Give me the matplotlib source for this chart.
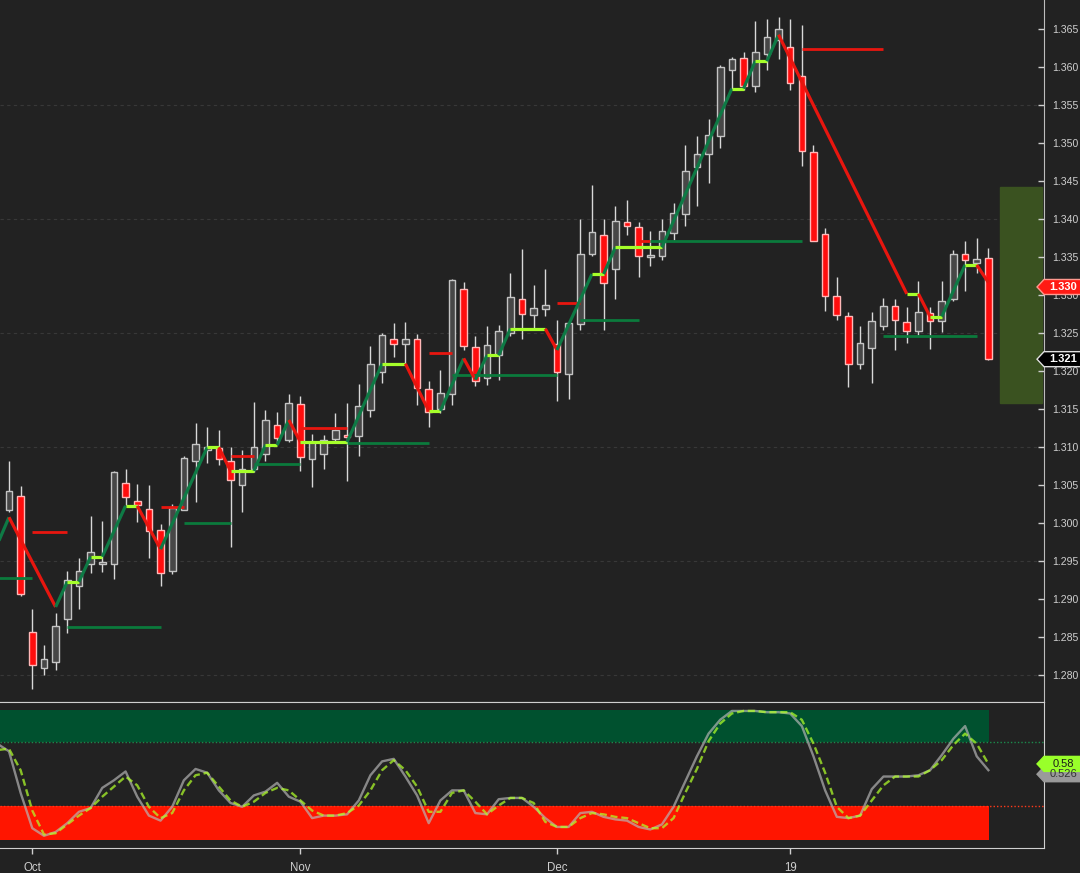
import numpy as np
import matplotlib
matplotlib.use("Agg")
import matplotlib.pyplot as plt
from matplotlib.patches import Polygon, Rectangle

plt.rcParams['font.family'] = ['Liberation Sans', 'DejaVu Sans']

# daily candles (bar 0 = Sep 27, bar 2 = Oct 1 ... bar 84 = last)
opens = [1.3018, 1.3036, 1.2857, 1.2810, 1.2818, 1.2874, 1.2917, 1.2946, 1.2947, 1.2946,
         1.3053, 1.3030, 1.3019, 1.2991, 1.2937, 1.3018, 1.3082, 1.3097, 1.3099, 1.3082,
         1.3050, 1.3072, 1.3091, 1.3129, 1.3109, 1.3157, 1.3084, 1.3091, 1.3111, 1.3116,
         1.3115, 1.3149, 1.3199, 1.3243, 1.3236, 1.3242, 1.3177, 1.3151, 1.3170, 1.3308,
         1.3232, 1.3191, 1.3221, 1.3251, 1.3295, 1.3274, 1.3282, 1.3236, 1.3197, 1.3262,
         1.3354, 1.3379, 1.3335, 1.3397, 1.3390, 1.3351, 1.3352, 1.3382, 1.3407, 1.3469,
         1.3486, 1.3510, 1.3597, 1.3612, 1.3576, 1.3618, 1.3636, 1.3627, 1.3589, 1.3489,
         1.3381, 1.3299, 1.3273, 1.3209, 1.3231, 1.3259, 1.3286, 1.3265, 1.3253, 1.3277,
         1.3266, 1.3295, 1.3355, 1.3343, 1.3349]
highs = [1.3082, 1.3049, 1.2887, 1.2840, 1.2882, 1.2937, 1.2954, 1.3010, 1.3003, 1.3069,
         1.3071, 1.3052, 1.3051, 1.2999, 1.3025, 1.3089, 1.3132, 1.3127, 1.3123, 1.3100,
         1.3097, 1.3159, 1.3149, 1.3147, 1.3170, 1.3168, 1.3118, 1.3116, 1.3145, 1.3158,
         1.3183, 1.3233, 1.3250, 1.3264, 1.3265, 1.3249, 1.3187, 1.3202, 1.3322, 1.3317,
         1.3246, 1.3259, 1.3261, 1.3329, 1.3361, 1.3314, 1.3335, 1.3268, 1.3265, 1.3400,
         1.3445, 1.3401, 1.3418, 1.3425, 1.3396, 1.3385, 1.3401, 1.3422, 1.3498, 1.3509,
         1.3532, 1.3603, 1.3613, 1.3620, 1.3661, 1.3664, 1.3666, 1.3664, 1.3656, 1.3498,
         1.3389, 1.3324, 1.3278, 1.3260, 1.3278, 1.3297, 1.3295, 1.3284, 1.3319, 1.3285,
         1.3319, 1.3359, 1.3371, 1.3375, 1.3362]
lows = [1.3015, 1.2905, 1.2782, 1.2800, 1.2807, 1.2856, 1.2887, 1.2935, 1.2936, 1.2927,
        1.3024, 1.3002, 1.2955, 1.2917, 1.2933, 1.3017, 1.3028, 1.3080, 1.3077, 1.2969,
        1.3015, 1.3068, 1.3082, 1.3106, 1.3107, 1.3069, 1.3048, 1.3071, 1.3107, 1.3056,
        1.3088, 1.3140, 1.3184, 1.3219, 1.3211, 1.3156, 1.3127, 1.3145, 1.3156, 1.3228,
        1.3181, 1.3182, 1.3188, 1.3246, 1.3243, 1.3254, 1.3273, 1.3161, 1.3164, 1.3254,
        1.3352, 1.3255, 1.3295, 1.3379, 1.3324, 1.3339, 1.3347, 1.3373, 1.3391, 1.3417,
        1.3448, 1.3494, 1.3571, 1.3570, 1.3568, 1.3597, 1.3611, 1.3570, 1.3470, 1.3371,
        1.3279, 1.3268, 1.3180, 1.3203, 1.3184, 1.3254, 1.3228, 1.3237, 1.3248, 1.3229,
        1.3252, 1.3293, 1.3306, 1.3330, 1.3215]
closes = [1.3043, 1.2907, 1.2813, 1.2822, 1.2865, 1.2925, 1.2937, 1.2962, 1.2949, 1.3067,
          1.3034, 1.3024, 1.2990, 1.2934, 1.3020, 1.3086, 1.3104, 1.3101, 1.3084, 1.3057,
          1.3072, 1.3101, 1.3136, 1.3112, 1.3158, 1.3087, 1.3107, 1.3110, 1.3123, 1.3113,
          1.3155, 1.3210, 1.3248, 1.3236, 1.3242, 1.3178, 1.3146, 1.3171, 1.3320, 1.3233,
          1.3187, 1.3234, 1.3253, 1.3298, 1.3275, 1.3283, 1.3287, 1.3199, 1.3263, 1.3354,
          1.3383, 1.3316, 1.3398, 1.3391, 1.3352, 1.3353, 1.3385, 1.3408, 1.3464, 1.3486,
          1.3511, 1.3600, 1.3611, 1.3575, 1.3620, 1.3640, 1.3650, 1.3580, 1.3490, 1.3372,
          1.3299, 1.3274, 1.3210, 1.3237, 1.3266, 1.3286, 1.3267, 1.3253, 1.3278, 1.3266,
          1.3293, 1.3355, 1.3346, 1.3348, 1.3216]

# swing line (bar index, value)
zz_bar = [-1, 0, 4, 5, 6, 7, 8, 10, 11, 13, 17, 18, 19, 21, 22, 23, 24, 25, 29, 32,
          34, 36, 37, 39, 40, 41, 42, 43, 46, 47, 50, 51, 52, 56, 62, 63, 64, 65, 66, 77,
          78, 79, 80, 82, 83, 84]
zz_val = [1.2972, 1.3008, 1.2890, 1.2923, 1.2923, 1.2956, 1.2956, 1.3023, 1.3023, 1.2966,
          1.3100, 1.3100, 1.3069, 1.3069, 1.3103, 1.3103, 1.3136, 1.3107, 1.3107, 1.3210,
          1.3210, 1.3148, 1.3148, 1.3217, 1.3189, 1.3221, 1.3221, 1.3256, 1.3256, 1.3228,
          1.3328, 1.3328, 1.3363, 1.3363, 1.3572, 1.3572, 1.3608, 1.3608, 1.3643, 1.3302,
          1.3302, 1.3272, 1.3272, 1.3340, 1.3340, 1.3317]

# support / resistance levels
lvl_start = [-1, 2, 5, 13, 15, 19, 21, 25, 29, 36, 38, 47, 49, 54, 55, 68, 75]
lvl_end = [2, 5, 13, 15, 19, 21, 25, 29, 36, 38, 47, 49, 54, 55, 68, 75, 83]
lvl_price = [1.2928, 1.2988, 1.2863, 1.3022, 1.3001, 1.3088, 1.3078, 1.3125, 1.3106,
             1.3224, 1.3195, 1.3290, 1.3268, 1.3372, 1.3371, 1.3624, 1.3246]
lvl_kind = ['sup', 'res', 'sup', 'res', 'sup', 'res', 'sup', 'res', 'sup',
            'res', 'sup', 'res', 'sup', 'res', 'sup', 'res', 'sup']

# oscillator, bars -1 .. 84
osc_k = [0.74, 0.68, 0.35, 0.07, 0.01, 0.04, 0.11, 0.20, 0.23, 0.39,
         0.45, 0.52, 0.32, 0.17, 0.13, 0.24, 0.45, 0.54, 0.51, 0.37,
         0.27, 0.24, 0.33, 0.36, 0.43, 0.32, 0.28, 0.15, 0.17, 0.17,
         0.18, 0.29, 0.49, 0.60, 0.62, 0.48, 0.33, 0.11, 0.29, 0.37,
         0.37, 0.19, 0.18, 0.30, 0.31, 0.31, 0.24, 0.15, 0.08, 0.08,
         0.19, 0.20, 0.16, 0.14, 0.13, 0.08, 0.06, 0.10, 0.24, 0.44,
         0.64, 0.82, 0.93, 1.00, 1.00, 1.00, 0.99, 0.99, 0.98, 0.88,
         0.64, 0.37, 0.16, 0.15, 0.17, 0.38, 0.48, 0.48, 0.48, 0.49,
         0.53, 0.65, 0.78, 0.88, 0.64, 0.53]
osc_d = [0.69, 0.70, 0.53, 0.21, 0.02, 0.03, 0.10, 0.17, 0.23, 0.32,
         0.40, 0.48, 0.41, 0.24, 0.15, 0.19, 0.37, 0.49, 0.51, 0.40,
         0.29, 0.24, 0.28, 0.35, 0.39, 0.37, 0.29, 0.21, 0.17, 0.17,
         0.19, 0.25, 0.37, 0.53, 0.61, 0.53, 0.40, 0.20, 0.20, 0.35,
         0.37, 0.28, 0.18, 0.25, 0.31, 0.31, 0.27, 0.12, 0.08, 0.08,
         0.15, 0.19, 0.18, 0.16, 0.15, 0.11, 0.07, 0.07, 0.15, 0.35,
         0.54, 0.76, 0.90, 0.98, 1.00, 1.00, 0.99, 0.99, 0.99, 0.93,
         0.74, 0.51, 0.24, 0.15, 0.17, 0.29, 0.41, 0.48, 0.48, 0.48,
         0.53, 0.61, 0.73, 0.82, 0.74, 0.58]

# month ticks
tick_bars = [2, 25, 47, 67]
tick_labels = ['Oct', 'Nov', 'Dec', '19']

# right-hand target box
box_lo, box_hi = 1.3158, 1.3443

BG = '#222222'
FG = '#cfcfcf'
W, H = 1080, 873

fig = plt.figure(figsize=(W / 100, H / 100), dpi=100, facecolor=BG)
ax = fig.add_axes([0, (H - 702) / H, 1044 / W, 702 / H], facecolor=BG)
ax2 = fig.add_axes([0, (H - 848) / H, 1044 / W, 146 / H], facecolor=BG)

x = np.arange(len(opens))
o = np.array(opens); c = np.array(closes)
up = c >= o

# wicks
ax.vlines(x, lows, highs, color='#d8d8d8', linewidth=1, zorder=2)
# bodies
body_h = np.maximum(np.abs(c - o), 0.00012)
ax.bar(x[up], body_h[up], bottom=np.minimum(o, c)[up], width=0.57,
       color='#474747', edgecolor='#c4c4c4', linewidth=1, zorder=3)
ax.bar(x[~up], body_h[~up], bottom=np.minimum(o, c)[~up], width=0.57,
       color='#ff0d0d', edgecolor='#ffb8b8', linewidth=1, zorder=3)

# support/resistance
for s, e, p, k in zip(lvl_start, lvl_end, lvl_price, lvl_kind):
    col = '#0b7a3c' if k == 'sup' else '#e8160f'
    ax.hlines(p, s, e, color=col, linewidth=2, zorder=4)

# swing line coloured by direction
for i in range(len(zz_bar) - 1):
    v0, v1 = zz_val[i], zz_val[i + 1]
    if v1 > v0:
        col = '#0e7a45'
    elif v1 < v0:
        col = '#e8160f'
    else:
        col = '#a6ff2a'
    ax.plot([zz_bar[i], zz_bar[i + 1]], [v0, v1], color=col, linewidth=2.3,
            solid_capstyle='butt', zorder=5)

ax.add_patch(Rectangle((85.0, box_lo), 3.62, box_hi - box_lo, color='#3a5220', zorder=1))

ax.set_xlim(-0.77, 88.77)
ax.set_ylim(1.27649, 1.36886)
ax.set_yticks(np.arange(1.280, 1.3651, 0.005))
ax.yaxis.set_major_formatter(matplotlib.ticker.FormatStrFormatter('%.3f'))
for g in np.arange(1.280, 1.356, 0.015):
    ax.axhline(g, color='#383838', linewidth=0.8, linestyle=(0, (3, 3)), zorder=0)
ax.yaxis.tick_right()
ax.tick_params(axis='y', colors=FG, labelsize=7.6, length=4, pad=6, width=1,
               direction='in')
ax.tick_params(axis='x', bottom=False, labelbottom=False)
for side in ['left', 'top']:
    ax.spines[side].set_visible(False)
ax.spines['right'].set_color('#bdbdbd')
ax.spines['bottom'].set_color('#d0d0d0')

# lower panel
xo = np.arange(-1, len(osc_k) - 1)
ax2.fill_between([-0.77, 84.05], 0.75, 1.008, color='#00512f', linewidth=0, zorder=1)
ax2.fill_between([-0.77, 84.05], -0.024, 0.25, color='#ff1500', linewidth=0, zorder=1)
ax2.axhline(0.75, color='#1c8a4c', linewidth=1, linestyle=(0, (1, 1.5)), zorder=2)
ax2.axhline(0.25, color='#ff3a1a', linewidth=1, linestyle=(0, (1, 1.5)), zorder=2)
ax2.plot(xo, osc_k, color='#b8b8b8', linewidth=1.7, alpha=0.68, zorder=3)
ax2.plot(xo, osc_d, color='#b0ff2a', linewidth=1.7, alpha=0.72,
         linestyle=(0, (3, 1.6)), zorder=4)
ax2.set_xlim(-0.77, 88.77)
ax2.set_ylim(-0.087, 1.071)
ax2.set_yticks([])
ax2.set_xticks(tick_bars)
ax2.set_xticklabels(tick_labels)
ax2.tick_params(axis='x', colors=FG, labelsize=8.3, length=4, pad=6, width=1)
ax2.spines['left'].set_visible(False)
for side in ['top', 'bottom', 'right']:
    ax2.spines[side].set_color('#d0d0d0')


def price_tag(axis, value, label, face, txt, edge=None, bold=True, dy=0.0):
    _, py = axis.transData.transform((0, value))
    py += dy
    tip, x0, x1, h = 1037, 1044, 1086, 7.5
    pts = [(tip, py), (x0, py + h), (x1, py + h), (x1, py - h), (x0, py - h)]
    pts = [(a / W, b / H) for a, b in pts]
    fig.add_artist(Polygon(pts, closed=True, transform=fig.transFigure,
                           facecolor=face, edgecolor=edge or face, linewidth=1,
                           zorder=5))
    fig.text(1063 / W, py / H, label, color=txt, fontsize=8,
             fontweight='bold' if bold else 'normal',
             ha='center', va='center', zorder=6)


fig.canvas.draw()
price_tag(ax, 1.3311, '1.330', '#ff1a14', 'white', '#ff9a90')
price_tag(ax, closes[-1], '1.321', '#000000', 'white', '#e0e0e0')
# grey %K tag sits just under the %D tag, mostly covered by it
price_tag(ax2, osc_k[-1], '0.526', '#9a9a9a', '#333333', bold=False, dy=-4)
price_tag(ax2, osc_d[-1], '0.58', '#99ff2a', '#1a1a1a', bold=False)

fig.savefig('out.png', dpi=100, facecolor=BG)
